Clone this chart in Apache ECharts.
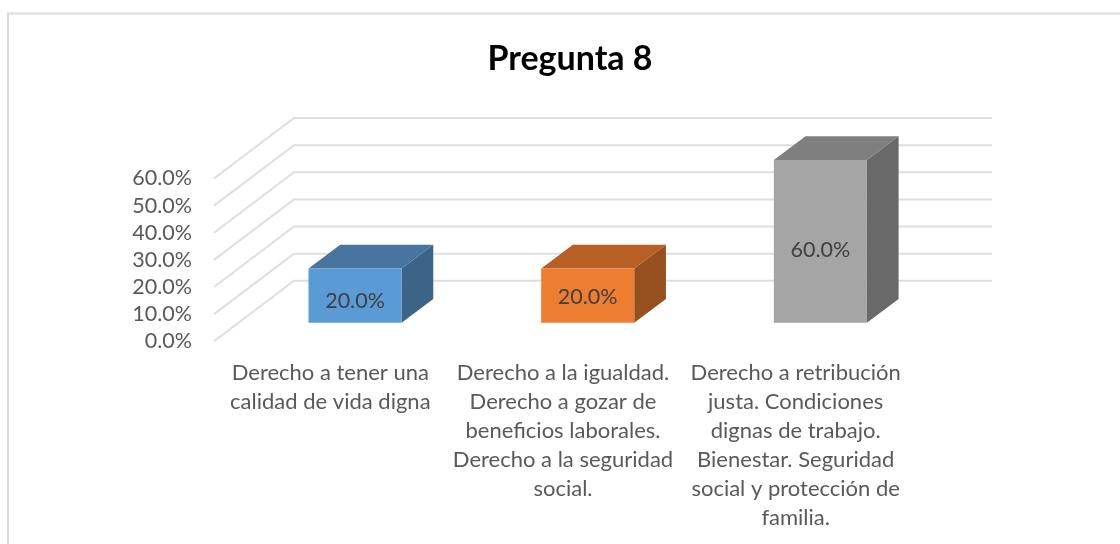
<!DOCTYPE html>
<html>
<head>
<meta charset="utf-8">
<style>
  html, body { margin: 0; padding: 0; background: #fff; }
  #chart { width: 1120px; height: 544px; }
</style>
<script src="https://cdn.jsdelivr.net/npm/echarts@6/dist/echarts.min.js"></script>
</head>
<body>
<div id="chart"></div>
<script>
const categories = [
  'Derecho a tener una\ncalidad de vida digna',
  'Derecho a la igualdad.\nDerecho a gozar de\nbeneficios laborales.\nDerecho a la seguridad\nsocial.',
  'Derecho a retribución\njusta. Condiciones\ndignas de trabajo.\nBienestar. Seguridad\nsocial y protección de\nfamilia.'
]
const values = [20, 20, 60]
const yTicks = [0, 10, 20, 30, 40, 50, 60]

const frontColors = ['#5b9bd5', '#ed7d31', '#a5a5a5']
const topColors = ['#4775a0', '#b85f25', '#7f7f7f']
const sideColors = ['#3b6488', '#96501f', '#696969']
const labelNudge = [5, 1, 9]

// floor depth of the fake 3d box
const wallDx = 80, wallDy = -60.5
const barDx = 24.7, barDy = -18.6
const depthDx = 31.7, depthDy = -23.7

const fontFamily = 'Lato, "Open Sans", sans-serif'

function renderWall(params, api) {
  const rect = params.coordSys
  const y = api.coord([0, api.value(1)])[1]
  return {
    type: 'polyline',
    shape: {
      points: [
        [rect.x, y],
        [rect.x + wallDx, y + wallDy],
        [rect.x + rect.width + wallDx, y + wallDy]
      ]
    },
    style: { stroke: '#dedede', lineWidth: 2, fill: null }
  }
}

function renderBar(params, api) {
  const i = params.dataIndex
  const base = api.coord([api.value(0), 0])
  const top = api.coord([api.value(0), api.value(1)])
  const w = api.size([1, 0])[0] * 0.4
  const x0 = base[0] - w / 2 + barDx
  const x1 = x0 + w
  const yb = base[1] + barDy
  const yt = top[1] + barDy
  return {
    type: 'group',
    children: [
      {
        type: 'polygon',
        shape: { points: [[x1, yt], [x1 + depthDx, yt + depthDy], [x1 + depthDx, yb + depthDy], [x1, yb]] },
        style: { fill: sideColors[i] }
      },
      {
        type: 'polygon',
        shape: { points: [[x0, yt], [x0 + depthDx, yt + depthDy], [x1 + depthDx, yt + depthDy], [x1, yt]] },
        style: { fill: topColors[i] }
      },
      {
        type: 'rect',
        shape: { x: x0, y: yt, width: w, height: yb - yt },
        style: { fill: frontColors[i] }
      },
      {
        type: 'text',
        style: {
          x: (x0 + x1) / 2,
          y: (yt + yb) / 2 + labelNudge[i],
          text: api.value(1).toFixed(1) + '%',
          fill: '#404040',
          font: '21.5px ' + fontFamily,
          align: 'center',
          verticalAlign: 'middle'
        }
      }
    ]
  }
}

const chart = echarts.init(document.getElementById('chart'), null, { renderer: 'canvas' })
chart.setOption({
  animation: false,
  backgroundColor: '#fff',
  title: {
    text: 'Pregunta 8',
    left: 565,
    top: 37,
    textAlign: 'center',
    textStyle: { fontFamily, fontSize: 34, fontWeight: 'bold', color: '#000' }
  },
  graphic: [{
    type: 'rect',
    shape: { x: 8, y: 13.5, width: 1130, height: 560 },
    style: { fill: null, stroke: '#dcdcdc', lineWidth: 2 },
    silent: true
  }],
  grid: { left: 214, top: 178.5, width: 698, height: 162.8 },
  xAxis: {
    type: 'category',
    data: categories,
    axisLine: { show: false },
    axisTick: { show: false },
    axisLabel: {
      interval: 0,
      margin: 17,
      color: '#595959',
      fontFamily,
      fontSize: 22,
      lineHeight: 29,
      align: 'center'
    }
  },
  yAxis: {
    type: 'value',
    min: 0,
    max: 60,
    interval: 10,
    axisLine: { show: false },
    axisTick: { show: false },
    splitLine: { show: false },
    axisLabel: {
      margin: 22,
      color: '#595959',
      fontFamily,
      fontSize: 21.5,
      padding: [4, 0, 0, 0],
      formatter: v => v.toFixed(1) + '%'
    }
  },
  series: [
    {
      type: 'custom',
      renderItem: renderWall,
      data: yTicks.map(t => [0, t]),
      silent: true,
      z: 1
    },
    {
      type: 'custom',
      renderItem: renderBar,
      data: values.map((v, i) => [i, v]),
      z: 2
    }
  ]
})
</script>
</body>
</html>
